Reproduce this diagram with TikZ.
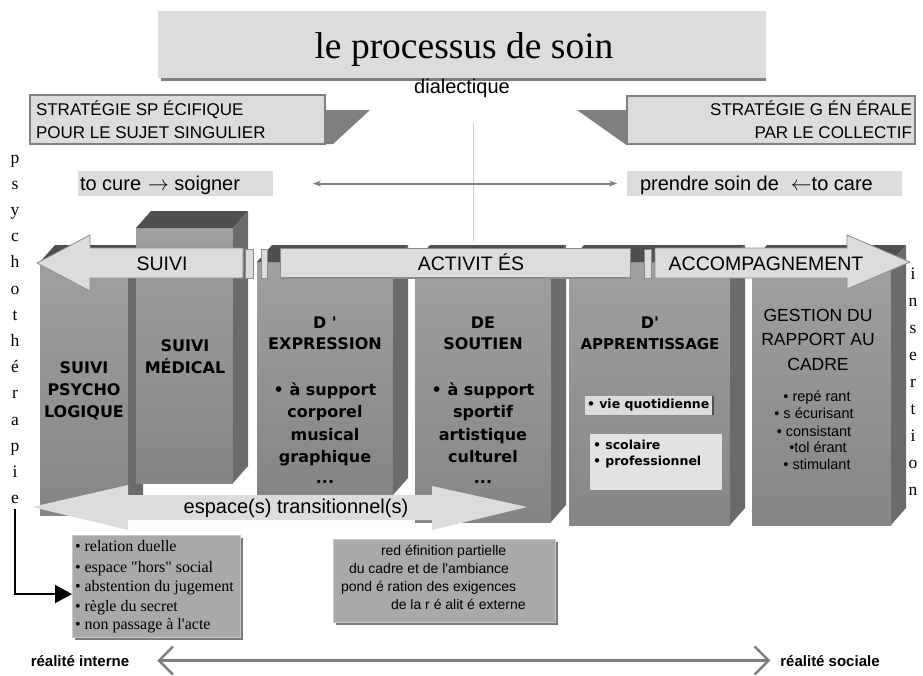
\documentclass[tikz,border=0pt]{standalone}
\usepackage{fontspec}
\setmainfont{Liberation Serif}
\setsansfont{Liberation Sans}
\newfontfamily\chic{DejaVu Sans}
\newfontfamily\serifplain{Liberation Serif}[Ligatures=TeXOff]
\newfontfamily\sansplain{Liberation Sans}[Ligatures=TeXOff]
\usetikzlibrary{arrows.meta,shadows}
\definecolor{lightbox}{HTML}{DCDCDC}
\definecolor{lightboxb}{HTML}{E2E2E2}
\definecolor{midgray}{HTML}{7F7F7F}
\definecolor{capgray}{HTML}{4F4F4F}
\definecolor{sidegray}{HTML}{6B6B6B}
\definecolor{ftop}{HTML}{A0A0A0}
\definecolor{fmid}{HTML}{E6E6E6}
\definecolor{fbot}{HTML}{858585}
\definecolor{infogray}{HTML}{A9A9A9}
\definecolor{infoedge}{HTML}{C8C8C8}
\definecolor{shadowgray}{HTML}{7A7A7A}
\definecolor{arrowedge}{HTML}{8C8C8C}
\definecolor{vlinegray}{HTML}{CCCCCC}
\definecolor{darkedge}{HTML}{505050}
\newcommand{\pillarbox}[4]{%
  \shade[top color=ftop, middle color=fmid, bottom color=fbot] (#1,#3) rectangle (#2,#4);
  \fill[capgray] (#1,#3) -- ({#1+15},{#3-17}) -- ({#2+15},{#3-17}) -- (#2,#3) -- cycle;
  \fill[sidegray] (#2,#3) -- ({#2+15},{#3-17}) -- ({#2+15},{#4-17}) -- (#2,#4) -- cycle;
}
\begin{document}
\begin{tikzpicture}[x=1pt,y=-1pt,
  every node/.style={inner sep=0pt,outer sep=0pt},
  lbox/.style={fill=lightbox},
  sansA/.style={font=\sffamily\fontsize{20}{24}\selectfont},
  strat/.style={font=\sffamily\fontsize{17}{20}\selectfont},
  arrowtxt/.style={font=\sffamily\fontsize{19.5}{23}\selectfont, anchor=base},
  pbig/.style={font=\chic\bfseries\fontsize{16}{19}\selectfont, anchor=base},
  psmall/.style={font=\chic\bfseries\fontsize{12.5}{15}\selectfont, anchor=base west},
  gest/.style={font=\sffamily\fontsize{17.5}{21}\selectfont, anchor=base},
  gbul/.style={font=\sffamily\fontsize{14.5}{17}\selectfont, anchor=base},
  vletter/.style={font=\rmfamily\fontsize{17.5}{20}\selectfont, anchor=base},
  serifitem/.style={font=\serifplain\fontsize{16}{19}\selectfont, anchor=base west},
  redef/.style={font=\sansplain\fontsize{14}{17}\selectfont, anchor=base west},
  real/.style={font=\sffamily\bfseries\fontsize{15}{18}\selectfont, anchor=base},
  bigarrow/.style={fill=lightbox, draw=arrowedge, line width=0.8pt},
  infobox/.style={fill=infogray, draw=infoedge, line width=0.6pt,
    drop shadow={shadow xshift=2.5pt, shadow yshift=-2.5pt, fill=shadowgray, opacity=1}},
]
\useasboundingbox (0,0) rectangle (923,675);

% thin vertical line
\draw[vlinegray, line width=0.8pt] (473,122) -- (473,241);

% title
\fill[midgray] (161,14) rectangle (766,81);
\node[lbox, anchor=north west, minimum width=608pt, minimum height=67pt] (titlebox) at (158,11) {};
\node[anchor=base, font=\rmfamily\fontsize{37.5}{40}\selectfont] (title) at (464,58) {le processus de soin};
\node[sansA, anchor=base] (dial) at (462,93) {dialectique};

% strategy boxes
\fill[midgray] (325,110) -- (370,110) -- (333,144) -- (325,144) -- cycle;
\node[lbox, draw=midgray, line width=2pt, anchor=north west, minimum width=295pt, minimum height=49pt] (sleft) at (30,95) {};
\node[strat, anchor=base west] (sl1) at (36,115) {STRATÉGIE SP ÉCIFIQUE};
\node[strat, anchor=base west] (sl2) at (36,138) {POUR LE SUJET SINGULIER};
\fill[midgray] (577,110) -- (629,110) -- (629,144) -- (625,144) -- cycle;
\node[lbox, draw=midgray, line width=2pt, anchor=north west, minimum width=288pt, minimum height=48pt] (sright) at (627,96) {};
\node[strat, anchor=base east] (sr1) at (912,115) {STRATÉGIE G ÉN ÉRALE};
\node[strat, anchor=base east] (sr2) at (912,138) {PAR LE COLLECTIF};

% cure / care
\node[lbox, anchor=north west, minimum width=195pt, minimum height=25pt] (curebox) at (78,171) {};
\node[sansA, anchor=base west] (cure) at (80,190) {to cure\hspace{7pt}$\rightarrow$ soigner};
\node[lbox, anchor=north west, minimum width=275pt, minimum height=25pt] (carebox) at (627,171) {};
\node[sansA, anchor=base west] (care) at (640,190) {prendre soin de\hspace{12pt}$\leftarrow$to care};
\draw[midgray, line width=2pt, {Stealth[length=8pt,width=6pt]}-{Stealth[length=8pt,width=6pt]}]
  ([xshift=40pt]curebox.east) -- ([xshift=-10pt]carebox.west);

% pillars
\pillarbox{40}{128}{262}{515}
\pillarbox{136}{233}{228}{483}
\pillarbox{257}{393}{262}{495}
\pillarbox{415}{551}{262}{522}
\pillarbox{569}{730}{262}{525}
\pillarbox{752}{891}{262}{525}

% pillar texts
\node[pbig] (p1a) at (84,373) {SUIVI};
\node[pbig] (p1b) at (84,395) {PSYCHO};
\node[pbig] (p1c) at (84,417) {LOGIQUE};
\node[pbig] (p2a) at (185,351) {SUIVI};
\node[pbig] (p2b) at (185,373) {MÉDICAL};

\node[pbig] (p3a) at (325,328) {D '};
\node[pbig] (p3b) at (325,349) {EXPRESSION};
\node[pbig] (p3c) at (325,395) {• à support};
\node[pbig] (p3d) at (325,417) {corporel};
\node[pbig] (p3e) at (325,440) {musical};
\node[pbig] (p3f) at (325,462) {graphique};
\node[pbig] (p3g) at (325,483) {...};

\node[pbig] (p4a) at (483,328) {DE};
\node[pbig] (p4b) at (483,349) {SOUTIEN};
\node[pbig] (p4c) at (483,395) {• à support};
\node[pbig] (p4d) at (483,417) {sportif};
\node[pbig] (p4e) at (483,440) {artistique};
\node[pbig] (p4f) at (483,462) {culturel};
\node[pbig] (p4g) at (483,483) {...};

\node[pbig] (p5a) at (650,328) {D'};
\node[pbig, font=\chic\bfseries\fontsize{15}{18}\selectfont] (p5b) at (650,349) {APPRENTISSAGE};
\node[fill=lightbox, anchor=north west, minimum width=128pt, minimum height=19pt] (vqbox) at (585,396) {};
\draw[darkedge, line width=1.5pt] (vqbox.north east) -- (vqbox.south east);
\draw[arrowedge, line width=0.8pt] (vqbox.south west) -- (vqbox.south east);
\node[psmall] (vq) at (587,408) {• vie quotidienne};
\node[fill=lightboxb, anchor=north west, minimum width=132pt, minimum height=56pt] (scbox) at (590,434) {};
\node[psmall] (sc1) at (593,449) {• scolaire};
\node[psmall] (sc2) at (593,465) {• professionnel};

\node[gest] (p6a) at (818,321) {GESTION DU};
\node[gest] (p6b) at (818,345) {RAPPORT AU};
\node[gest] (p6c) at (818,370) {CADRE};
\node[gbul] (g1) at (817,401) {• repé rant};
\node[gbul] (g2) at (814,418) {• s écurisant};
\node[gbul] (g3) at (814,436) {• consistant};
\node[gbul] (g4) at (818,452) {•tol érant};
\node[gbul] (g5) at (817,469) {• stimulant};

% top arrows
\draw[bigarrow] (37,263) -- (90,235) -- (90,248) -- (243,248) -- (243,278) -- (90,278) -- (90,291) -- cycle;
\draw[bigarrow] (245,249) rectangle (253,278);
\draw[bigarrow] (261,249) rectangle (267,278);
\draw[bigarrow] (280,248) rectangle (630,278);
\draw[arrowedge, line width=1.5pt] (281,278) -- (630,278);
\draw[bigarrow] (644,249) rectangle (651,278);
\draw[bigarrow] (655,248) -- (847,248) -- (847,235) -- (910,262) -- (847,289) -- (847,278) -- (655,278) -- cycle;
\node[arrowtxt] (tsuivi) at (162,270) {SUIVI};
\node[arrowtxt] (tact) at (471,270) {ACTIVIT ÉS};
\node[arrowtxt] (tacc) at (766,270) {ACCOMPAGNEMENT};

% espace transitionnel arrow
\fill[lightbox] (32,507) -- (128,485) -- (128,495) -- (432,495) -- (432,486) -- (527,507)
  -- (432,530) -- (432,520) -- (128,520) -- (128,530) -- cycle;
\node[sansA, anchor=base] (tesp) at (296,513) {espace(s) transitionnel(s)};

% info boxes
\node[infobox, anchor=north west, minimum width=168pt, minimum height=102pt] (ibox) at (72,535) {};
\node[serifitem] (i1) at (75,551) {• relation duelle};
\node[serifitem] (i2) at (75,572) {• espace "hors" social};
\node[serifitem] (i3) at (75,591) {• abstention du jugement};
\node[serifitem] (i4) at (75,611) {• règle du secret};
\node[serifitem] (i5) at (75,629) {• non passage à l'acte};

\node[infobox, anchor=north west, minimum width=222pt, minimum height=83pt] (rbox) at (333,539) {};
\node[redef] (r1) at (381,555) {red éfinition partielle};
\node[redef] (r2) at (349,573) {du cadre et de l'ambiance};
\node[redef] (r3) at (341,591) {pond é ration des exigences};
\node[redef] (r4) at (391,609) {de la r é alit é externe};

% vertical words
\foreach \l [count=\i from 0] in {p,s,y,c,h,o,t,h,é,r,a,p,i,e}
  \node[vletter] (ps\i) at (15,{163+26.2*\i}) {\l};
\foreach \l [count=\i from 0] in {i,n,s,e,r,t,i,o,n}
  \node[vletter] (in\i) at (913,{279+27.1*\i}) {\l};

% black arrow
\draw[black, line width=2pt, -{Triangle[length=17pt,width=18pt]}]
  ([yshift=-5pt]ps13.south) |- ([yshift=-8pt]ibox.west);

% bottom arrow
\node[real] (rint) at (80,666) {réalité interne};
\node[real] (rsoc) at (830,666) {réalité sociale};
\draw[midgray, line width=2.5pt, {Straight Barb[length=14pt,width=28pt]}-{Straight Barb[length=14pt,width=28pt]}]
  ([xshift=28pt]rint.east) -- ([xshift=-10pt]rsoc.west);
\end{tikzpicture}
\end{document}
